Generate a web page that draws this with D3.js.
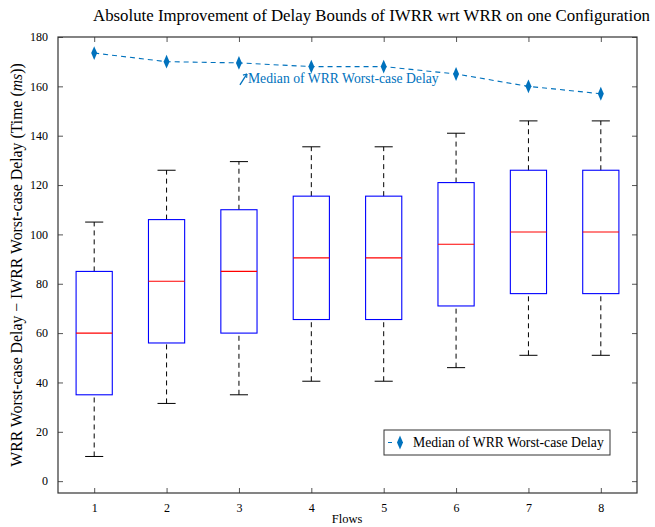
<!DOCTYPE html>
<html>
<head>
<meta charset="utf-8">
<script src="https://cdn.jsdelivr.net/npm/d3@7"></script>
<style>
  body { margin: 0; background: #fff; }
  text { font-family: "Liberation Serif", "DejaVu Serif", serif; }
</style>
</head>
<body>
<script>
const flows = [1, 2, 3, 4, 5, 6, 7, 8];
const whiskerLow = [10, 31.5, 35, 40.5, 40.5, 46, 51, 51];
const q1 = [35, 56, 60, 65.5, 65.5, 71, 76, 76];
const medians = [60, 81, 85, 90.5, 90.5, 96, 101, 101];
const q3 = [85, 106, 110, 115.5, 115.5, 121, 126, 126];
const whiskerHigh = [105, 126, 129.5, 135.5, 135.5, 141, 146, 146];
const wrrMedian = [173.5, 170, 169.5, 168, 168, 165, 160, 157];
const yTicks = [0, 20, 40, 60, 80, 100, 120, 140, 160, 180];

const width = 655, height = 527;
const margin = {left: 58, right: 18, top: 37, bottom: 34};
const blue = "#0072bd";

const svg = d3.select("body").append("svg")
    .attr("width", width)
    .attr("height", height);

const x = d3.scaleLinear().domain([0.5, 8.5]).range([margin.left, width - margin.right]);
const y = d3.scaleLinear().domain([-4.8, 180]).range([height - margin.bottom, margin.top]);

// title
svg.append("text")
    .attr("x", 93).attr("y", 21)
    .attr("font-size", 16.9)
    .attr("textLength", 557)
    .attr("lengthAdjust", "spacingAndGlyphs")
    .text("Absolute Improvement of Delay Bounds of IWRR wrt WRR on one Configuration");

// axes: ticks inside, on all four sides
const tickLen = 5;
svg.append("g")
    .attr("transform", `translate(0,${y.range()[0]})`)
    .call(d3.axisBottom(x).tickValues(flows).tickSizeInner(-tickLen).tickSizeOuter(0).tickPadding(10))
    .call(g => g.selectAll("text").attr("font-size", 12))
    .call(g => g.select(".domain").remove());
svg.append("g")
    .attr("transform", `translate(0,${y.range()[1]})`)
    .call(d3.axisTop(x).tickValues(flows).tickSizeInner(-tickLen).tickSizeOuter(0).tickFormat(""))
    .call(g => g.select(".domain").remove());
svg.append("g")
    .attr("transform", `translate(${x.range()[0]},0)`)
    .call(d3.axisLeft(y).tickValues(yTicks).tickSizeInner(-tickLen).tickSizeOuter(0).tickPadding(10))
    .call(g => g.selectAll("text").attr("font-size", 12))
    .call(g => g.select(".domain").remove());
svg.append("g")
    .attr("transform", `translate(${x.range()[1]},0)`)
    .call(d3.axisRight(y).tickValues(yTicks).tickSizeInner(-tickLen).tickSizeOuter(0).tickFormat(""))
    .call(g => g.select(".domain").remove());
svg.selectAll(".tick line").attr("stroke", "#555");

// frame
svg.append("rect")
    .attr("x", x.range()[0]).attr("y", y.range()[1])
    .attr("width", x.range()[1] - x.range()[0])
    .attr("height", y.range()[0] - y.range()[1])
    .attr("fill", "none").attr("stroke", "#333").attr("stroke-width", 1.2);

// axis labels
svg.append("text")
    .attr("x", 347).attr("y", 523)
    .attr("text-anchor", "middle")
    .attr("font-size", 12.5)
    .text("Flows");
svg.append("text")
    .attr("transform", "translate(22,265) rotate(-90)")
    .attr("text-anchor", "middle")
    .attr("font-size", 15.8)
    .html('WRR Worst-case Delay \u2212 IWRR Worst-case Delay (Time (<tspan font-style="italic">ms</tspan>))');

// boxes
const boxW = 0.5, capW = 0.25;
const boxes = svg.append("g").selectAll("g")
    .data(flows.map((f, i) => ({f, lo: whiskerLow[i], q1: q1[i], med: medians[i], q3: q3[i], hi: whiskerHigh[i]})))
    .join("g");

boxes.append("line")
    .attr("x1", d => x(d.f)).attr("x2", d => x(d.f))
    .attr("y1", d => y(d.lo)).attr("y2", d => y(d.q1))
    .attr("stroke", "#000").attr("stroke-dasharray", "5,4");
boxes.append("line")
    .attr("x1", d => x(d.f)).attr("x2", d => x(d.f))
    .attr("y1", d => y(d.q3)).attr("y2", d => y(d.hi))
    .attr("stroke", "#000").attr("stroke-dasharray", "5,4");
boxes.append("line")
    .attr("x1", d => x(d.f - capW / 2)).attr("x2", d => x(d.f + capW / 2))
    .attr("y1", d => y(d.lo)).attr("y2", d => y(d.lo))
    .attr("stroke", "#000");
boxes.append("line")
    .attr("x1", d => x(d.f - capW / 2)).attr("x2", d => x(d.f + capW / 2))
    .attr("y1", d => y(d.hi)).attr("y2", d => y(d.hi))
    .attr("stroke", "#000");
boxes.append("rect")
    .attr("x", d => x(d.f - boxW / 2))
    .attr("width", x(1 + boxW) - x(1))
    .attr("y", d => y(d.q3))
    .attr("height", d => y(d.q1) - y(d.q3))
    .attr("fill", "none").attr("stroke", "#0000ff").attr("stroke-width", 1.1);
boxes.append("line")
    .attr("x1", d => x(d.f - boxW / 2)).attr("x2", d => x(d.f + boxW / 2))
    .attr("y1", d => y(d.med)).attr("y2", d => y(d.med))
    .attr("stroke", "#ff0000").attr("stroke-width", 1.1);

// WRR median series
const line = d3.line().x((d, i) => x(flows[i])).y(d => y(d));
svg.append("path")
    .datum(wrrMedian)
    .attr("d", line)
    .attr("fill", "none").attr("stroke", blue)
    .attr("stroke-width", 1.1).attr("stroke-dasharray", "5,4");
const diamond = d3.symbol().type(d3.symbolDiamond).size(55);
svg.append("g").selectAll("path")
    .data(wrrMedian)
    .join("path")
    .attr("transform", (d, i) => `translate(${x(flows[i])},${y(d)}) scale(0.75,1)`)
    .attr("d", diamond)
    .attr("fill", blue);

// annotation
const ax = x(3), ay = y(wrrMedian[2]);
svg.append("line")
    .attr("x1", ax + 1).attr("y1", ay + 22)
    .attr("x2", ax + 8).attr("y2", ay + 11)
    .attr("stroke", blue).attr("stroke-width", 1.3);
svg.append("path")
    .attr("d", `M${ax + 8},${ay + 11} l-4,1.2 M${ax + 8},${ay + 11} l-0.3,4`)
    .attr("stroke", blue).attr("stroke-width", 1.1).attr("fill", "none");
svg.append("text")
    .attr("x", ax + 9).attr("y", ay + 20.5)
    .attr("font-size", 13.7)
    .attr("fill", blue)
    .text("Median of WRR Worst-case Delay");

// legend
const lg = svg.append("g").attr("transform", "translate(384,430)");
lg.append("rect")
    .attr("width", 226).attr("height", 25)
    .attr("fill", "#fff").attr("stroke", "#333").attr("stroke-width", 1);
lg.append("line")
    .attr("x1", 4).attr("x2", 19).attr("y1", 12.5).attr("y2", 12.5)
    .attr("stroke", blue).attr("stroke-width", 1.1).attr("stroke-dasharray", "4,8");
lg.append("path")
    .attr("transform", "translate(16,12.5) scale(0.75,1)")
    .attr("d", diamond)
    .attr("fill", blue);
lg.append("text")
    .attr("x", 29).attr("y", 17)
    .attr("font-size", 13.7)
    .text("Median of WRR Worst-case Delay");
</script>
</body>
</html>
